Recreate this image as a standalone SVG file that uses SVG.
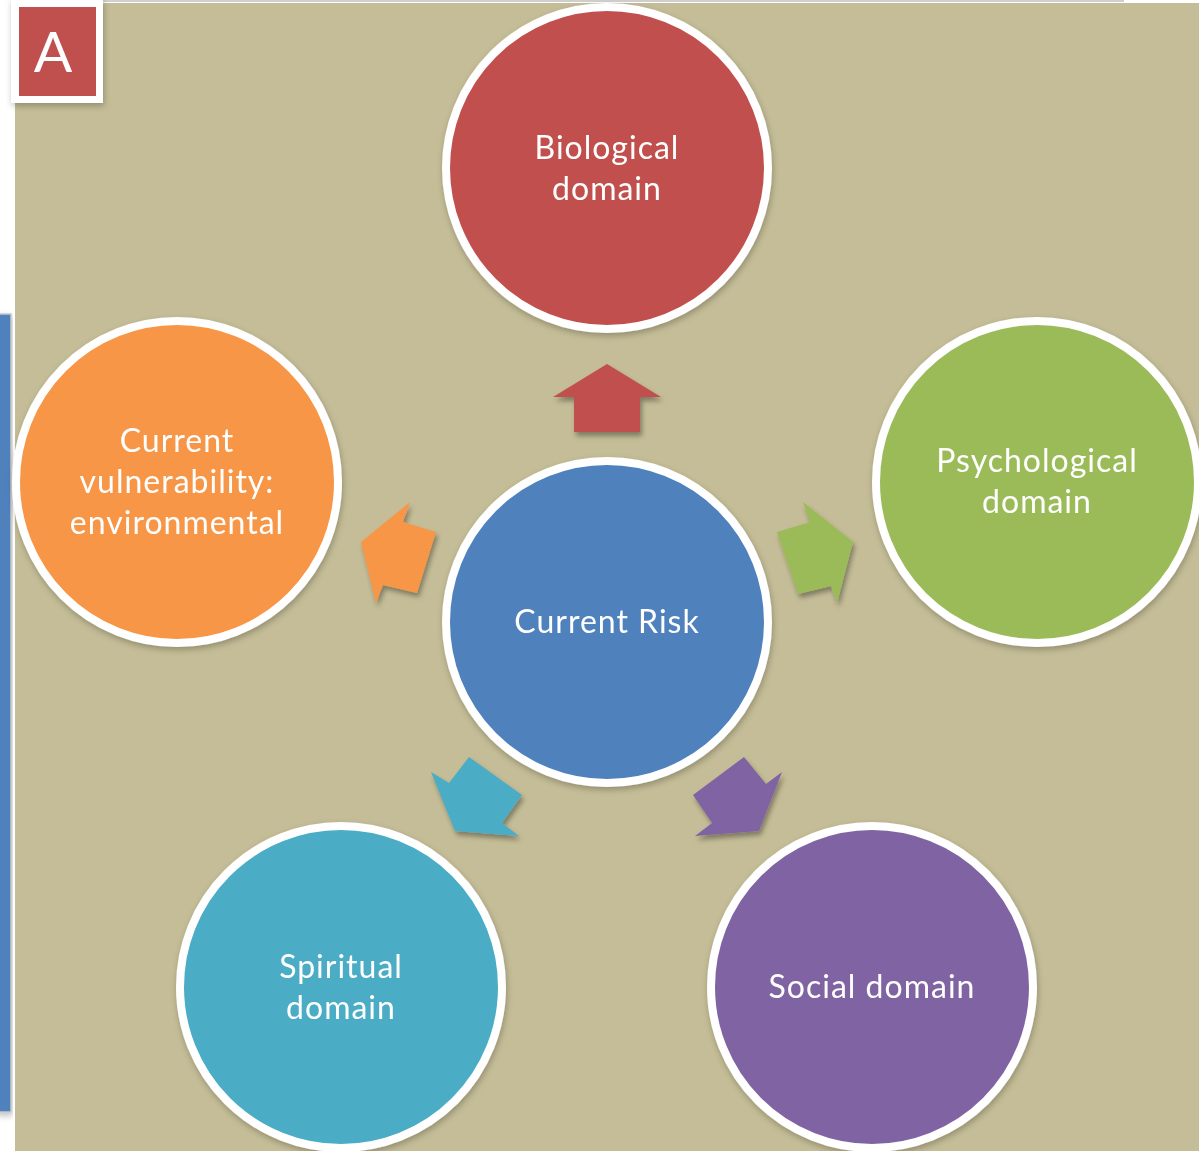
<svg xmlns="http://www.w3.org/2000/svg" width="1199" height="1151" viewBox="0 0 1199 1151">
  <defs>
    <filter id="shadow" x="-20%" y="-20%" width="140%" height="140%">
      <feGaussianBlur in="SourceAlpha" stdDeviation="2.5"/>
      <feOffset dx="2" dy="4" result="b"/>
      <feFlood flood-color="#000" flood-opacity="0.35"/>
      <feComposite in2="b" operator="in"/>
      <feMerge><feMergeNode/><feMergeNode in="SourceGraphic"/></feMerge>
    </filter>
    <filter id="soft" x="-10%" y="-10%" width="120%" height="120%">
      <feGaussianBlur in="SourceAlpha" stdDeviation="3"/>
      <feOffset dx="1" dy="3" result="b"/>
      <feFlood flood-color="#000" flood-opacity="0.25"/>
      <feComposite in2="b" operator="in"/>
      <feMerge><feMergeNode/><feMergeNode in="SourceGraphic"/></feMerge>
    </filter>
  </defs>
  <style>
    .ring { stroke: #ffffff; stroke-width: 8; }
    .lbl { font-family: Lato, "Open Sans", "Liberation Sans", sans-serif; font-size: 32px; letter-spacing: 1px; fill: #ffffff; text-anchor: middle; }
  </style>

  <!-- page background -->
  <rect x="0" y="0" width="1199" height="1151" fill="#ffffff"/>
  <rect x="15" y="3" width="1184" height="1148" fill="#C4BD97"/>
  <rect x="103" y="0" width="1021" height="2" fill="#cfcfcf"/>

  <!-- side panel at left edge -->
  <rect x="-4" y="314" width="15" height="798" fill="#4F81BD" stroke="#c8c8c8" stroke-width="1.5" filter="url(#soft)"/>

  <!-- panel letter -->
  <g id="label-a">
    <rect x="11" y="-2" width="92" height="105" fill="#ffffff" filter="url(#soft)"/>
    <rect x="19" y="7" width="77" height="89" fill="#C0504D"/>
    <text x="53" y="72" font-family="Lato, 'Open Sans', 'Liberation Sans', sans-serif" font-size="57" fill="#ffffff" text-anchor="middle">A</text>
  </g>

  <!-- connectors: block arrows pointing from the centre outwards -->
  <g id="connectors" filter="url(#shadow)">
    <polygon fill="#C0504D" points="607,364 661,397 640,397 640,432 574,432 574,397 553,397"/>
    <polygon fill="#9BBB59" points="853,542 837,603 831,586 798,594 777,532 810,522 803,502"/>
    <polygon fill="#F79646" points="361,542 410,502 403,522 436,532 417,593 383,585 376,603"/>
    <polygon fill="#4BACC6" points="455,831 431,772 449,783 469,757 522,795 502,823 519,836"/>
    <polygon fill="#8064A2" points="759,831 782,772 766,784 744,757 693,795 712,823 695,836"/>
  </g>

  <g id="node-biological" filter="url(#soft)">
    <circle class="ring" cx="607" cy="168" r="161" fill="#C0504D"/>
    <text class="lbl" x="607" y="159">Biological</text>
    <text class="lbl" x="607" y="200">domain</text>
  </g>

  <g id="node-psychological" filter="url(#soft)">
    <circle class="ring" cx="1037" cy="482" r="161" fill="#9BBB59"/>
    <text class="lbl" x="1037" y="472">Psychological</text>
    <text class="lbl" x="1037" y="513">domain</text>
  </g>

  <g id="node-environmental" filter="url(#soft)">
    <circle class="ring" cx="177" cy="482" r="161" fill="#F79646"/>
    <text class="lbl" x="177" y="452">Current</text>
    <text class="lbl" x="177" y="493">vulnerability:</text>
    <text class="lbl" x="177" y="534">environmental</text>
  </g>

  <g id="node-current-risk" filter="url(#soft)">
    <circle class="ring" cx="607" cy="622" r="161" fill="#4F81BD"/>
    <text class="lbl" x="607" y="633">Current Risk</text>
  </g>

  <g id="node-spiritual" filter="url(#soft)">
    <circle class="ring" cx="341" cy="987" r="161" fill="#4BACC6"/>
    <text class="lbl" x="341" y="978">Spiritual</text>
    <text class="lbl" x="341" y="1019">domain</text>
  </g>

  <g id="node-social" filter="url(#soft)">
    <circle class="ring" cx="872" cy="987" r="161" fill="#8064A2"/>
    <text class="lbl" x="872" y="998">Social domain</text>
  </g>
</svg>
